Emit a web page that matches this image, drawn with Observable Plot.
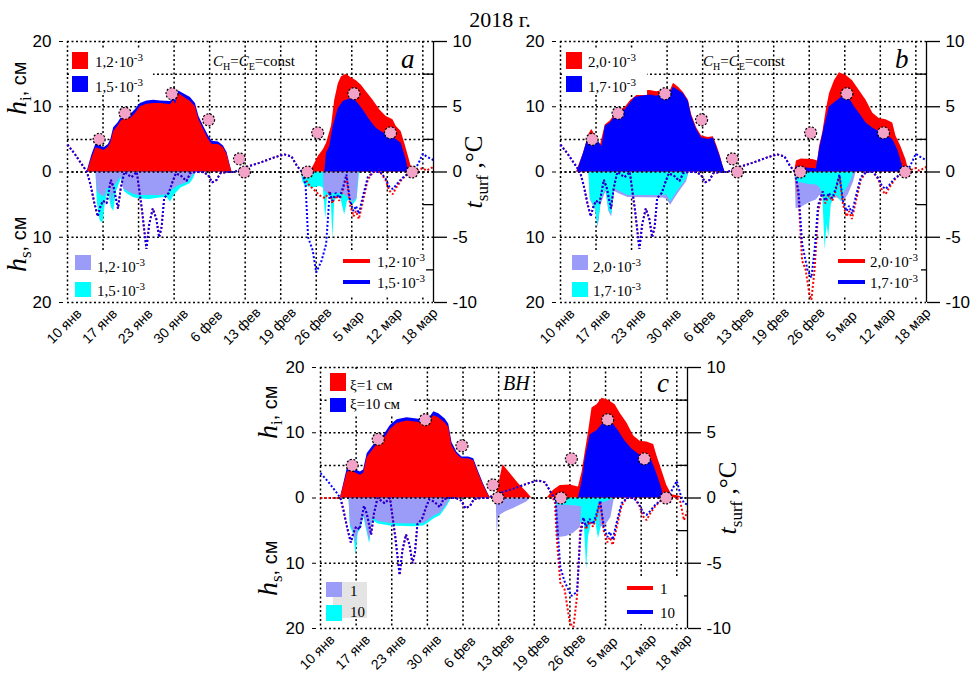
<!DOCTYPE html>
<html><head><meta charset="utf-8">
<script src="https://cdn.jsdelivr.net/npm/d3@7"></script>
<script src="https://cdn.jsdelivr.net/npm/@observablehq/plot@0.6"></script>
<style>
body{margin:0;background:#fff;}
#page{position:relative;width:976px;height:680px;overflow:hidden;background:#fff;}
.panel{position:absolute;}
#title{position:absolute;left:0;width:1000px;text-align:center;top:9px;font:22px "Liberation Serif";line-height:22px;color:#000;}
</style></head>
<body><div id="page"><div id="title">2018 г.</div></div>
<script>
// ---------- axes / categories ----------
const xTickLabels = ["10 янв","17 янв","23 янв","30 янв","6 фев","13 фев","19 фев","26 фев","5 мар","12 мар","18 мар"];
const xTickPos = [0,1,2,3,4,5,6,7,8,9,10];
const X_DOMAIN = [0, 10.3];
const hTicks = [20,10,0,-10,-20];
const hGridLines = [20,15,10,5,0,-10,-20];
const tMinorTicks = [15,5,-5,-15];
const CM_PER_DEG = 2; // 10 °C on the right axis = 20 cm on the left axis

// observed ice thickness (pink dots), same in all panels
const obsPoints = [[0.89,5],[1.62,9],[2.94,12],[3.97,8],[4.84,2],[4.98,0],[6.75,0],[7.04,6],[8.06,12],[9.09,6],[9.7,0]];

// ---------- panel a: ice thickness h_i ----------
const iceA1 = [[0.5,0],[0.56,0],[0.68,2.0],[0.8,3.7],[0.86,3.6],[0.95,3.5],[1.03,3.3],[1.15,3.8],[1.22,4.5],[1.3,6.2],[1.42,7.0],[1.5,7.7],[1.64,8.5],[1.78,8.2],[1.92,9.0],[2.05,10.0],[2.24,10.4],[2.43,10.5],[2.62,10.5],[2.9,10.3],[2.99,11.0],[3.04,10.4],[3.13,12.0],[3.27,11.5],[3.46,10.8],[3.6,10.0],[3.7,8.0],[3.83,6.5],[3.97,5.0],[4.07,4.2],[4.25,4.2],[4.39,3.7],[4.49,2.7],[4.58,0.9],[4.63,0],[6.82,0],[6.92,0.9],[7.06,2.4],[7.2,3.4],[7.29,4.4],[7.43,7.0],[7.52,11.0],[7.62,13.5],[7.71,14.6],[7.85,15.0],[7.99,14.4],[8.13,14.0],[8.27,13.3],[8.41,12.3],[8.6,11.0],[8.79,9.5],[8.97,8.5],[9.16,8.0],[9.25,7.0],[9.39,6.2],[9.49,4.4],[9.58,2.7],[9.67,0.9],[9.81,0.4],[9.86,0]];
const iceA2_s1 = [[0.55,0],[0.68,2.5],[0.8,4.3],[0.86,4.1],[0.95,3.9],[1.03,3.7],[1.15,4.2],[1.22,5.0],[1.3,6.8],[1.42,7.5],[1.5,8.2],[1.64,9.0],[1.78,8.8],[1.92,9.6],[2.05,10.5],[2.24,10.9],[2.43,11.0],[2.62,10.9],[2.9,10.8],[2.99,11.4],[3.04,10.9],[3.13,12.4],[3.27,12.0],[3.46,11.4],[3.6,10.5],[3.7,8.5],[3.83,7.0],[3.97,5.5],[4.07,4.7],[4.25,4.6],[4.39,4.0],[4.49,3.0],[4.58,1.0],[4.63,0]];
const iceA2_s2 = [[7.24,0],[7.29,2.9],[7.38,3.9],[7.48,7.0],[7.62,9.7],[7.76,10.8],[7.9,11.1],[8.04,11.3],[8.18,10.5],[8.32,9.5],[8.5,8.0],[8.69,6.7],[8.88,6.0],[9.07,5.7],[9.25,5.0],[9.39,4.4],[9.53,1.9],[9.6,0]];
// panel a: snow depth h_s  [x, top, bottom]
const snowA1 = [[0.8,0,0],[0.84,0,3.0],[0.95,0,3.6],[1.05,0,3.8],[1.12,0,2.6],[1.2,0,2.4],[1.26,0,5.0],[1.32,0,2.2],[1.42,0,1.5],[1.5,0,0.7],[1.58,0,2.6],[1.7,0,3.0],[1.85,0,3.4],[2.0,0,3.6],[2.3,0,3.6],[2.6,0,3.6],[2.8,0,3.5],[2.9,0,2.9],[3.0,0,2.6],[3.1,0,2.2],[3.2,0,2.0],[3.3,0,1.8],[3.4,0,1.5],[3.5,0,0.8],[3.58,0,0.2],[3.6,0,0],[7.2,0,0],[7.22,0,2.8],[7.3,0,3.2],[7.45,0,3.3],[7.6,0,3.3],[7.75,0,3.3],[7.85,0,3.8],[7.95,0,4.0],[8.05,0,4.6],[8.15,0,4.0],[8.2,0,0]];
const snowA2 = [[0.8,0,0],[0.84,0,4.8],[0.92,0,7.5],[1.0,0,7.8],[1.06,0,5.0],[1.14,0,3.0],[1.24,0,5.5],[1.3,0,6.0],[1.38,0,3.0],[1.45,0,2.0],[1.52,0,1.0],[1.6,0,3.0],[1.7,0,3.4],[1.85,0,3.9],[2.0,0,4.1],[2.3,0,4.2],[2.6,0,4.0],[2.8,0,3.9],[2.9,0,4.6],[3.0,0,3.6],[3.1,0,3.0],[3.2,0,2.4],[3.3,0,2.2],[3.45,0,1.8],[3.55,0,1.0],[3.62,0,0],[6.58,0,0],[6.62,0,1.5],[6.7,0,2.2],[6.8,0,2.3],[6.95,0,2.4],[7.1,0,2.2],[7.2,0,2.5],[7.27,0,7.2],[7.32,0,3.5],[7.42,0,4.0],[7.47,0,10.2],[7.52,0,4.5],[7.6,0,3.8],[7.7,0,4.2],[7.8,0,6.6],[7.88,0,4.5],[7.95,0,4.2],[8.05,0,5.0],[8.15,0,4.2],[8.22,0,0]];

// ---------- panel b ----------
const iceB1 = [[0.45,0],[0.65,2.9],[0.8,5.8],[0.88,6.5],[0.99,5.5],[1.12,4.0],[1.26,7.2],[1.4,7.8],[1.54,8.8],[1.68,9.5],[1.82,9.9],[1.96,10.9],[2.1,11.5],[2.29,12.4],[2.52,12.5],[2.71,12.3],[2.9,12.5],[3.08,12.3],[3.18,13.6],[3.32,13.0],[3.46,12.2],[3.6,11.0],[3.69,8.8],[3.83,6.8],[3.97,5.5],[4.16,5.3],[4.3,5.4],[4.39,4.2],[4.49,2.6],[4.58,0.8],[4.63,0],[6.59,0],[6.64,1.7],[6.78,2.0],[7.1,1.9],[7.24,1.7],[7.29,3.9],[7.38,6.0],[7.48,9.5],[7.57,12.0],[7.71,14.0],[7.85,15.2],[8.04,14.8],[8.22,14.0],[8.41,12.5],[8.6,11.0],[8.79,9.0],[8.97,8.2],[9.16,8.0],[9.35,7.5],[9.44,5.5],[9.58,3.9],[9.72,1.9],[9.81,0]];
const iceB2 = [[0.47,0],[0.65,2.9],[0.79,5.5],[0.89,5.2],[1.03,5.0],[1.17,3.9],[1.26,7.0],[1.4,7.5],[1.54,8.5],[1.68,9.2],[1.82,9.5],[1.96,10.5],[2.1,11.4],[2.29,11.6],[2.52,11.8],[2.71,11.6],[2.9,12.0],[3.08,12.0],[3.18,13.0],[3.32,12.5],[3.46,12.0],[3.6,10.8],[3.69,8.5],[3.83,6.5],[3.97,5.2],[4.16,5.0],[4.3,5.2],[4.39,3.9],[4.49,2.4],[4.58,0.8],[4.63,0],[6.62,0],[6.65,0.8],[6.9,0.6],[7.2,0.5],[7.29,3.4],[7.43,7.0],[7.57,10.0],[7.76,10.8],[7.99,11.8],[8.13,11.3],[8.27,10.0],[8.41,9.0],[8.6,7.5],[8.79,6.7],[8.97,6.2],[9.16,5.7],[9.35,5.0],[9.49,3.4],[9.63,0.9],[9.7,0]];
const snowB1 = [[0.8,0,0],[0.84,0,4.3],[0.98,0,5.8],[1.06,0,8.5],[1.14,0,5.0],[1.28,0,3.0],[1.36,0,6.0],[1.44,0,6.9],[1.52,0,3.0],[1.68,0,3.4],[1.9,0,3.9],[2.9,0,4.0],[3.0,0,4.2],[3.1,0,5.1],[3.25,0,3.8],[3.4,0,2.6],[3.55,0,1.5],[3.62,0,0],[6.6,0,0],[6.63,0,5.6],[6.75,0,5.5],[6.9,0,5.0],[7.05,0,4.6],[7.2,0,4.3],[7.3,0,3.6],[7.4,0,3.8],[7.6,0,4.0],[7.8,0,4.0],[7.95,0,4.6],[8.1,0,3.5],[8.25,0,1.5],[8.32,0,0]];
const snowB2 = [[0.8,0,0],[0.84,0,4.1],[0.98,0,5.5],[1.06,0,8.3],[1.14,0,4.5],[1.28,0,2.6],[1.36,0,5.8],[1.44,0,6.6],[1.52,0,2.6],[1.68,0,3.0],[1.9,0,3.6],[2.9,0,3.6],[3.0,0,3.5],[3.1,0,4.6],[3.25,0,3.3],[3.4,0,2.2],[3.55,0,1.1],[3.6,0,0],[6.6,0,0],[6.65,0,1.6],[6.8,0,1.7],[7.0,0,1.9],[7.2,0,2.0],[7.3,0,2.4],[7.38,0,3.5],[7.45,0,12.0],[7.5,0,8.0],[7.55,0,10.0],[7.62,0,5.0],[7.7,0,4.0],[7.8,0,3.6],[7.9,0,4.6],[8.0,0,3.0],[8.1,0,2.2],[8.2,0,1.0],[8.25,0,0]];

// ---------- panel c ----------
const iceC1 = [[0.56,0],[0.75,3.9],[0.84,4.2],[1.0,3.8],[1.12,3.5],[1.21,3.8],[1.31,6.2],[1.45,7.2],[1.59,8.2],[1.78,9.0],[1.96,10.5],[2.15,11.4],[2.43,11.8],[2.71,11.6],[2.94,11.4],[3.04,11.6],[3.18,12.6],[3.32,12.3],[3.5,11.5],[3.6,10.8],[3.69,8.0],[3.83,6.7],[3.97,6.0],[4.16,6.0],[4.3,5.7],[4.44,3.7],[4.58,1.9],[4.72,0.4],[4.77,0],[4.93,0],[5.0,2.0],[5.12,5.1],[5.33,3.7],[5.56,2.2],[5.79,0.9],[5.93,0],[6.36,0],[6.54,1.2],[6.73,1.9],[7.01,2.0],[7.24,1.7],[7.34,3.9],[7.43,7.0],[7.52,10.0],[7.62,13.8],[7.76,14.3],[7.9,15.3],[8.08,15.0],[8.27,14.3],[8.41,13.0],[8.6,11.5],[8.79,9.5],[8.97,8.7],[9.16,8.6],[9.35,8.2],[9.44,6.5],[9.58,4.2],[9.72,1.9],[9.86,0.5],[10.05,0.3],[10.19,0]];
const iceC2_s1 = [[0.56,0],[0.75,4.5],[0.82,5.9],[0.9,4.8],[1.0,4.3],[1.12,4.0],[1.21,4.3],[1.31,6.8],[1.45,7.8],[1.59,8.8],[1.78,9.6],[1.96,11.1],[2.15,12.0],[2.43,12.3],[2.71,12.1],[2.94,11.9],[3.04,12.1],[3.18,13.2],[3.32,12.9],[3.5,12.1],[3.6,11.3],[3.69,8.5],[3.83,7.0],[3.97,6.3],[4.16,6.3],[4.3,6.0],[4.44,4.0],[4.58,2.1],[4.72,0.5],[4.77,0]];
const iceC2_s2 = [[7.24,0],[7.34,2.4],[7.43,6.0],[7.57,9.7],[7.76,10.3],[7.94,11.5],[8.08,11.8],[8.22,11.3],[8.36,10.3],[8.55,8.7],[8.74,7.5],[8.93,6.7],[9.11,6.2],[9.3,5.7],[9.44,3.7],[9.58,1.4],[9.63,0]];
const snowC1 = [[0.8,0,0],[0.84,0,4.1],[0.93,0,5.1],[1.0,0,7.0],[1.06,0,5.0],[1.14,0,4.3],[1.22,0,2.6],[1.3,0,4.6],[1.38,0,6.6],[1.46,0,3.0],[1.62,0,3.6],[1.96,0,3.9],[2.6,0,4.0],[2.9,0,3.9],[3.04,0,3.4],[3.18,0,2.8],[3.37,0,2.3],[3.55,0,1.0],[3.65,0,0],[4.93,0,0],[4.96,0,5.6],[5.0,0,2.8],[5.05,0,2.6],[5.2,0,2.1],[5.42,0,1.6],[5.6,0,1.1],[5.79,0,0.6],[5.89,0,0],[6.6,null,null],[6.6,1.1,1.1],[6.63,1.1,6.1],[6.9,1.1,5.9],[7.1,1.2,5.4],[7.3,1.3,4.5],[7.33,1.3,1.3],[7.34,null,null],[7.8,0.8,0.8],[7.85,0.8,4.5],[8.0,0.6,4.2],[8.15,0.3,3.0],[8.25,0,0]];
const snowC2 = [[0.8,0,0],[0.84,0,4.5],[0.93,0,5.5],[1.0,0,8.7],[1.06,0,5.4],[1.14,0,4.7],[1.22,0,3.0],[1.3,0,5.0],[1.38,0,7.0],[1.46,0,3.4],[1.62,0,4.0],[1.96,0,4.3],[2.6,0,4.4],[2.9,0,4.3],[3.04,0,3.8],[3.18,0,3.2],[3.37,0,2.7],[3.55,0,1.3],[3.68,0,0],[6.58,0,0],[6.62,0,1.1],[7.25,0,1.3],[7.3,0,4.0],[7.4,0,3.5],[7.47,0,11.0],[7.52,0,6.0],[7.6,0,4.0],[7.72,0,3.5],[7.8,0,6.2],[7.9,0,4.0],[8.0,0,3.2],[8.1,0,2.0],[8.2,0,0]];

// ---------- surface temperature t_surf (°C), pieces ----------
const tStartAB = [[0,2.1],[0.2,1.4],[0.4,0.6],[0.55,0]];
const tStartC_blue = [[0,1.9],[0.2,1.3],[0.4,0.6],[0.56,0]];
const tStartC_red = [[0,0],[0.3,0],[0.56,0]];
const tWinter = [[0.65,-1.0],[0.75,-2.3],[0.85,-3.4],[0.92,-2.7],[1.0,-2.2],[1.1,-2.4],[1.22,-0.6],[1.3,-1.2],[1.42,-2.8],[1.5,-1.2],[1.6,0],[1.7,-0.2],[1.8,-0.4],[1.95,0],[2.1,-3.0],[2.22,-5.9],[2.3,-4.0],[2.4,-2.8],[2.5,-3.6],[2.58,-5.0],[2.65,-4.2],[2.72,-2.0],[2.85,-1.6],[2.95,-0.8],[3.05,-0.1],[3.2,-0.3],[3.35,-0.7],[3.45,-0.1],[3.6,0],[3.8,0],[3.95,-0.2],[4.07,-0.8],[4.2,-0.6],[4.3,-0.1],[4.5,0],[4.7,0],[4.85,0.2],[5.05,0.4],[5.4,0.7],[5.8,1.1],[6.1,1.35],[6.3,1.2],[6.45,0.5]];
const tDipA_blue = [[6.6,0],[6.7,-1.0],[6.77,-5.0],[6.9,-6.0],[7.0,-7.7],[7.15,-6.8],[7.28,-5.5],[7.38,-1.5]];
const tDipA_red = [[6.6,0],[6.65,-0.4],[6.8,-1.0],[6.95,-1.4],[7.1,-1.8],[7.25,-2.0],[7.38,-1.5]];
const tDipB_blue = [[6.6,0],[6.7,-1.5],[6.8,-5.5],[6.95,-7.5],[7.06,-8.1],[7.15,-6.0],[7.25,-2.5],[7.38,-1.5]];
const tDipB_red = [[6.6,0],[6.7,-2.0],[6.8,-6.8],[6.9,-7.5],[7.0,-9.3],[7.06,-9.8],[7.15,-7.5],[7.25,-3.0],[7.38,-1.5]];
const tDipC_blue = [[6.6,-0.2],[6.73,-5.3],[6.85,-6.4],[7.04,-7.5],[7.2,-7.2],[7.29,-3.0],[7.38,-1.5]];
const tDipC_red = [[6.58,-0.4],[6.63,-3.0],[6.73,-6.5],[6.85,-7.0],[7.0,-9.6],[7.1,-9.9],[7.2,-7.5],[7.29,-2.4],[7.38,-1.5]];
const tLate_blue = [[7.45,-2.2],[7.55,-1.6],[7.65,-2.0],[7.75,-1.2],[7.85,-0.2],[7.95,-2.2],[8.05,-3.0],[8.12,-2.6],[8.2,-3.2],[8.3,-2.0],[8.45,-0.4],[8.6,0],[8.8,0],[8.95,-0.5],[9.05,-1.1],[9.15,-1.3],[9.25,-1.0],[9.4,-0.5],[9.55,-0.2],[9.75,0]];
const tLate_red = [[7.45,-2.4],[7.55,-1.8],[7.65,-2.2],[7.75,-1.4],[7.85,-0.3],[7.95,-2.5],[8.05,-3.4],[8.12,-3.0],[8.2,-3.6],[8.3,-2.4],[8.45,-0.6],[8.6,0],[8.8,0],[8.95,-0.6],[9.05,-1.4],[9.15,-1.7],[9.25,-1.2],[9.4,-0.6],[9.55,-0.2],[9.75,0]];
const tEndAB_blue = [[9.9,0.8],[10.0,1.4],[10.1,1.2],[10.3,0.9]];
const tEndAB_red = [[9.9,0.2],[10.0,0.3],[10.1,0.1],[10.3,0.4]];
const tEndC_blue = [[9.9,0.8],[10.0,1.3],[10.1,0.3],[10.2,-0.4],[10.3,-0.5]];
const tEndC_red = [[9.9,0.2],[10.0,0.0],[10.1,-0.3],[10.2,-1.7],[10.3,-1.0]];

const tempA_red = [...tStartAB, ...tWinter, ...tDipA_red, ...tLate_red, ...tEndAB_red];
const tempA_blue = [...tStartAB, ...tWinter, ...tDipA_blue, ...tLate_blue, ...tEndAB_blue];
const tempB_red = [...tStartAB, ...tWinter, ...tDipB_red, ...tLate_red, ...tEndAB_red];
const tempB_blue = [...tStartAB, ...tWinter, ...tDipB_blue, ...tLate_blue, ...tEndAB_blue];
const tempC_red = [...tStartC_red, ...tWinter, ...tDipC_red, ...tLate_red, ...tEndC_red];
const tempC_blue = [...tStartC_blue, ...tWinter, ...tDipC_blue, ...tLate_blue, ...tEndC_blue];

// ---------- colours ----------
const RED = "#ff0000", BLUE = "#0000ff", LAV = "#9b9bf8", CYAN = "#00ffff", PINK = "#f4a3c8";
const SERIF = "Liberation Serif", SANS = "Liberation Sans";
const GRID = {stroke: "#000", strokeWidth: 1.5, strokeDasharray: "2,2.5", strokeLinecap: "butt"};

function panelPlot({width, height, ml, mr, mb, layers}) {
  const marks = [Plot.ruleY(hGridLines, GRID), Plot.ruleX(xTickPos, GRID)];
  for (const l of layers) {
    if (l.kind === "ice") marks.push(Plot.areaY(l.data, {x: d => d[0], y1: 0, y2: d => d[1], fill: l.color}));
    else if (l.kind === "snow") marks.push(Plot.areaY(l.data, {x: d => d[0], y1: d => d[1] == null ? NaN : -d[1], y2: d => d[2] == null ? NaN : -d[2], fill: l.color}));
  }
  marks.push(Plot.ruleY([0], GRID));
  for (const l of layers) if (l.kind === "temp")
    marks.push(Plot.line(l.data, {x: d => d[0], y: d => d[1] * CM_PER_DEG, stroke: l.color, strokeWidth: 2, strokeDasharray: "2,2", strokeLinecap: "butt", strokeLinejoin: "miter"}));
  marks.push(Plot.dot(obsPoints, {x: d => d[0], y: d => d[1], r: 6, fill: PINK, stroke: "#000", strokeWidth: 1.2, strokeDasharray: "2,1.6"}));
  marks.push(Plot.ruleX([X_DOMAIN[1]], {stroke: "#000", strokeWidth: 1.3}));
  marks.push(Plot.axisY(hTicks, {anchor: "left", label: null, tickSize: 4, dx: -4, tickPadding: 8, tickFormat: d => String(Math.abs(d)), fontSize: 17}));
  marks.push(Plot.axisY(hTicks, {anchor: "right", label: null, tickSize: 13, tickPadding: 6, tickFormat: d => String(d / CM_PER_DEG), fontSize: 17, strokeWidth: 1.3}));
  marks.push(Plot.axisY(tMinorTicks, {anchor: "right", label: null, tickSize: 11, dx: -11, tickFormat: () => "", strokeWidth: 1.3}));
  marks.push(Plot.text(xTickLabels, {x: (d, i) => xTickPos[i], text: d => d, frameAnchor: "bottom", dy: 27, rotate: -45, fontSize: 14}));
  return Plot.plot({
    width, height, marginLeft: ml, marginRight: mr, marginTop: 41, marginBottom: mb,
    x: {domain: X_DOMAIN, axis: null},
    y: {domain: [-20, 20], axis: null},
    style: {background: "transparent", fontFamily: SANS, fontSize: "17px", overflow: "visible"},
    marks
  });
}

function place(svg, left, top, w) {
  const d = document.createElement("div");
  d.className = "panel";
  d.style.left = left + "px"; d.style.top = top + "px"; d.style.width = w + "px";
  d.appendChild(svg);
  document.getElementById("page").appendChild(d);
}
function rect(svg, x, y, w, h, fill) {
  d3.select(svg).append("rect").attr("x", x).attr("y", y).attr("width", w).attr("height", h).attr("fill", fill);
}
function hline(svg, x1, x2, y, color) {
  d3.select(svg).append("line").attr("x1", x1).attr("x2", x2).attr("y1", y).attr("y2", y).attr("stroke", color).attr("stroke-width", 4);
}
function rich(svg, x, y, parts, opt = {}) {
  const t = d3.select(svg).append("text").attr("x", x).attr("y", y)
    .attr("font-family", opt.family || SERIF).attr("font-size", opt.size || 15)
    .attr("text-anchor", opt.anchor || "start").attr("fill", "#000");
  if (opt.rotate) t.attr("transform", `rotate(${opt.rotate} ${x} ${y})`);
  for (const p of parts) {
    const s = t.append("tspan").text(p.t);
    if (p.italic) s.attr("font-style", "italic");
    if (p.size) s.attr("font-size", p.size);
    if (p.family) s.attr("font-family", p.family);
    if (p.shift) s.attr("baseline-shift", p.shift);
  }
}
const sci = (m) => [{t: m + "·10"}, {t: "-3", size: 11, shift: 6}];
const chce = [{t: "C", italic: true}, {t: "H", size: 10, shift: -4}, {t: "="}, {t: "C", italic: true}, {t: "E", size: 10, shift: -4}, {t: "=const"}];
const hiTitle = [{t: "h", italic: true, size: 28}, {t: "i", size: 17, shift: -5}, {t: ", см", family: SANS, size: 20}];
const hsTitle = [{t: "h", italic: true, size: 28}, {t: "s", size: 17, shift: -5}, {t: ", см", family: SANS, size: 20}];
const tTitle = [{t: "t", italic: true, size: 26}, {t: "surf", size: 17, shift: -6}, {t: " ,°C", size: 25}];

// ----- panel a -----
const svgA = panelPlot({width: 490, height: 350, ml: 67, mr: 57, mb: 48, layers: [
  {kind: "snow", data: snowA2, color: CYAN}, {kind: "snow", data: snowA1, color: LAV},
  {kind: "ice", data: iceA2_s1, color: BLUE}, {kind: "ice", data: iceA1, color: RED}, {kind: "ice", data: iceA2_s2, color: BLUE},
  {kind: "temp", data: tempA_red, color: RED}, {kind: "temp", data: tempA_blue, color: BLUE}]});
rect(svgA, 69, 48, 84, 47, "#fff");
rect(svgA, 72, 252, 80, 48, "#fff");
rect(svgA, 340, 250, 86, 46, "#fff");
rect(svgA, 72, 52, 16, 17, RED); rich(svgA, 95, 67, sci("1,2"));
rect(svgA, 72, 76, 16, 16, BLUE); rich(svgA, 95, 92, sci("1,5"));
rich(svgA, 213, 66, chce);
rich(svgA, 401, 68, [{t: "a", italic: true}], {size: 27});
rect(svgA, 75, 255, 16, 15, LAV); rich(svgA, 97, 272, sci("1,2"));
rect(svgA, 75, 282, 16, 15, CYAN); rich(svgA, 97, 296, sci("1,5"));
hline(svgA, 343, 370, 261, RED); rich(svgA, 377, 267, sci("1,2"));
hline(svgA, 343, 370, 282, BLUE); rich(svgA, 377, 288, sci("1,5"));
rich(svgA, 26, 115, hiTitle, {rotate: -90});
rich(svgA, 26, 272, hsTitle, {rotate: -90});
rich(svgA, 482, 172, tTitle, {rotate: -90, anchor: "middle"});
place(svgA, 0, 0, 490);

// ----- panel b -----
const svgB = panelPlot({width: 486, height: 350, ml: 70, mr: 50, mb: 48, layers: [
  {kind: "snow", data: snowB1, color: LAV}, {kind: "snow", data: snowB2, color: CYAN},
  {kind: "ice", data: iceB1, color: RED}, {kind: "ice", data: iceB2, color: BLUE},
  {kind: "temp", data: tempB_red, color: RED}, {kind: "temp", data: tempB_blue, color: BLUE}]});
rect(svgB, 73, 48, 84, 47, "#fff");
rect(svgB, 79, 252, 82, 48, "#fff");
rect(svgB, 345, 250, 86, 46, "#fff");
rect(svgB, 76, 52, 16, 17, RED); rich(svgB, 98, 67, sci("2,0"));
rect(svgB, 76, 76, 16, 16, BLUE); rich(svgB, 98, 92, sci("1,7"));
rich(svgB, 213, 66, chce);
rich(svgB, 405, 68, [{t: "b", italic: true}], {size: 27});
rect(svgB, 82, 255, 16, 15, LAV); rich(svgB, 103, 272, sci("2,0"));
rect(svgB, 82, 282, 16, 15, CYAN); rich(svgB, 103, 296, sci("1,7"));
hline(svgB, 348, 375, 261, RED); rich(svgB, 380, 267, sci("2,0"));
hline(svgB, 348, 375, 282, BLUE); rich(svgB, 380, 288, sci("1,7"));
place(svgB, 490, 0, 486);

// ----- panel c -----
const svgC = panelPlot({width: 490, height: 356, ml: 70, mr: 53, mb: 54, layers: [
  {kind: "snow", data: snowC2, color: CYAN}, {kind: "snow", data: snowC1, color: LAV},
  {kind: "ice", data: iceC2_s1, color: BLUE}, {kind: "ice", data: iceC1, color: RED}, {kind: "ice", data: iceC2_s2, color: BLUE},
  {kind: "temp", data: tempC_red, color: RED}, {kind: "temp", data: tempC_blue, color: BLUE}]});
rect(svgC, 77, 44, 85, 46, "#fff");
rect(svgC, 372, 250, 62, 48, "#fff");
rect(svgC, 80, 47, 16, 18, RED); rich(svgC, 100, 64, [{t: "ξ=1 см"}]);
rect(svgC, 80, 72, 16, 14, BLUE); rich(svgC, 100, 83, [{t: "ξ=10 см"}]);
rich(svgC, 253, 64, [{t: "BH", italic: true}], {size: 20});
rich(svgC, 407, 66, [{t: "c", italic: true}], {size: 27});
rect(svgC, 83, 256, 34, 36, "#e4e4e4");
rect(svgC, 76, 256, 16, 15, LAV); rich(svgC, 100, 270, [{t: "1"}]);
rect(svgC, 76, 279, 16, 16, CYAN); rich(svgC, 100, 291, [{t: "10"}]);
hline(svgC, 377, 403, 262, RED); rich(svgC, 410, 268, [{t: "1"}]);
hline(svgC, 377, 403, 286, BLUE); rich(svgC, 410, 292, [{t: "10"}]);
rich(svgC, 27, 113, hiTitle, {rotate: -90});
rich(svgC, 27, 270, hsTitle, {rotate: -90});
rich(svgC, 486, 172, tTitle, {rotate: -90, anchor: "middle"});
place(svgC, 250, 326, 490);
</script>
</body></html>
